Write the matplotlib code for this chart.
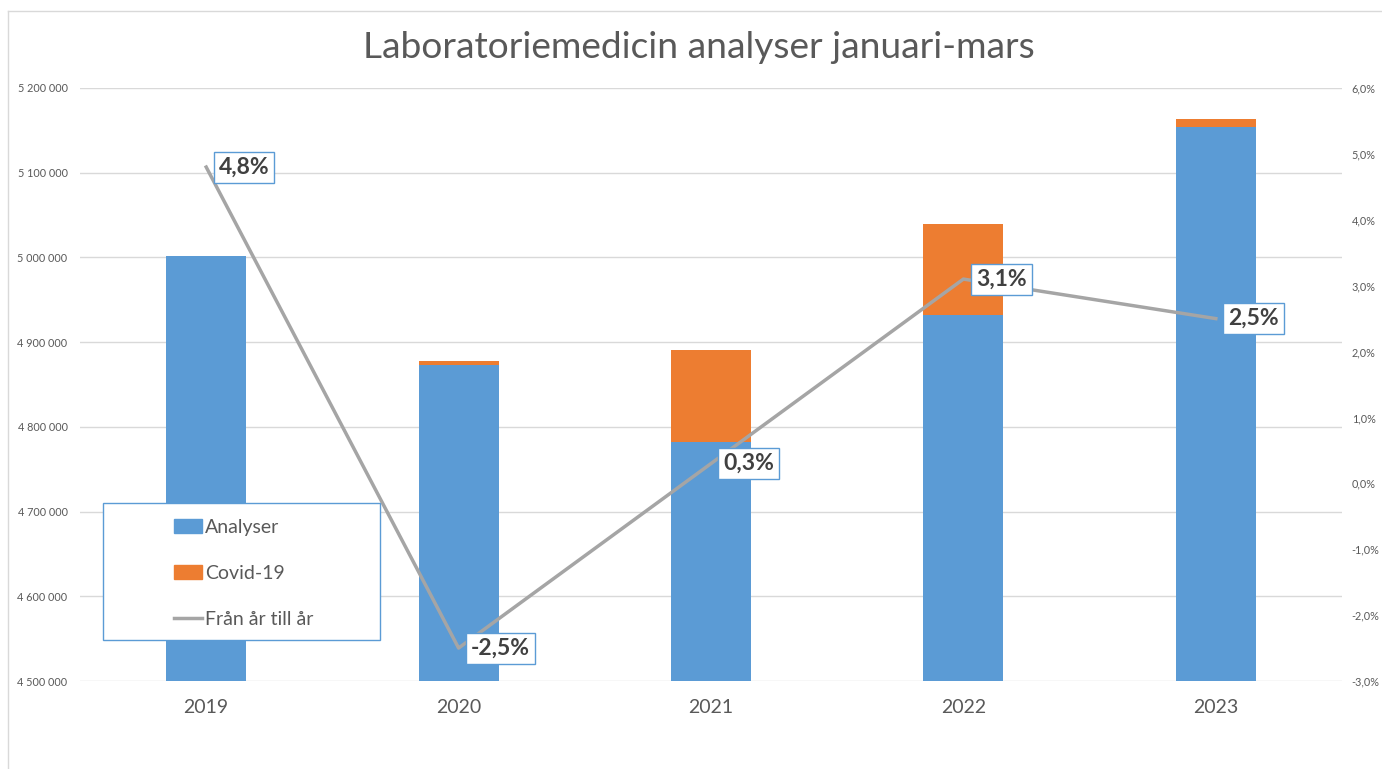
import matplotlib
matplotlib.use("Agg")
import matplotlib.pyplot as plt
from matplotlib.patches import Rectangle
from matplotlib.lines import Line2D
from matplotlib.ticker import FuncFormatter, MultipleLocator

plt.rcParams['font.family'] = ['Lato', 'DejaVu Sans']

# data
years = ['2019', '2020', '2021', '2022', '2023']
analyser = [5002000, 4873000, 4782000, 4932000, 5154000]
covid = [0, 5000, 109000, 107000, 9500]
growth = [4.8, -2.5, 0.3, 3.1, 2.5]

BLUE = '#5B9BD5'
ORANGE = '#ED7D31'
GREY_LINE = '#A5A5A5'
TXT = '#595959'

fig = plt.figure(figsize=(13.82, 7.69), dpi=100)
ax = fig.add_axes([80 / 1382, 1 - 681 / 769, (1342 - 80) / 1382, (681 - 88) / 769])

x = list(range(len(years)))
ax.bar(x, analyser, width=0.317, color=BLUE, zorder=2, label='Analyser')
ax.bar(x, covid, width=0.317, bottom=analyser, color=ORANGE, zorder=2, label='Covid-19')
ax.set_ylim(4500000, 5200000)
ax.set_xlim(-0.5, len(years) - 0.5)
ax.yaxis.set_major_locator(MultipleLocator(100000))
ax.yaxis.set_major_formatter(FuncFormatter(lambda v, p: f"{v:,.0f}".replace(",", " ")))
ax.grid(axis='y', color='#D9D9D9', lw=1, zorder=0)
ax.set_axisbelow(True)
ax.set_xticks(x)
ax.set_xticklabels(years)
ax.tick_params(axis='x', length=0, pad=13, labelsize=14, labelcolor=TXT)
ax.tick_params(axis='y', length=0, pad=9, labelsize=7.8, labelcolor=TXT)
for s in ax.spines.values():
    s.set_visible(False)

ax2 = ax.twinx()
ax2.plot(x, growth, color=GREY_LINE, lw=2.5, zorder=3)
ax2.set_ylim(-3, 6)
ax2.yaxis.set_major_locator(MultipleLocator(1))
ax2.yaxis.set_major_formatter(FuncFormatter(lambda v, p: f"{v:.1f}%".replace(".", ",")))
ax2.tick_params(axis='y', length=0, pad=7, labelsize=7.8, labelcolor=TXT)
for s in ax2.spines.values():
    s.set_visible(False)

for xi, g in zip(x, growth):
    ax2.annotate(f"{g:.1f}%".replace(".", ","), (xi, g), xytext=(9, 0),
                 textcoords='offset points', ha='left', va='center',
                 fontsize=16.5, fontweight='bold', color='#404040', zorder=5,
                 bbox=dict(boxstyle='square,pad=0.22', fc='white', ec=BLUE, lw=1))

fig.suptitle('Laboratoriemedicin analyser januari-mars', x=0.506, y=1 - 48 / 769,
             va='center', fontsize=26.7, color=TXT)

# legend with its own box
fig.patches.append(Rectangle((103 / 1382, 1 - 640 / 769), 277 / 1382, 137 / 769,
                             transform=fig.transFigure, fc='white', ec=BLUE, lw=1, zorder=4))
handles = [Rectangle((0, 0), 1, 1, color=BLUE), Rectangle((0, 0), 1, 1, color=ORANGE),
           Line2D([0], [0], color=GREY_LINE, lw=2.5)]
leg = fig.legend(handles, ['Analyser', 'Covid-19', 'Från år till år'],
                 loc='upper left', bbox_to_anchor=(164 / 1382, 1 - 509 / 769),
                 frameon=False, fontsize=14, labelcolor=TXT, labelspacing=1.5,
                 handlelength=1.45, handleheight=0.75, handletextpad=0.15, borderpad=0)
leg.set_zorder(6)

# chart border
fig.add_artist(Line2D([8 / 1382, 8 / 1382], [0, 1 - 11 / 769], transform=fig.transFigure,
                      color='#D9D9D9', lw=1))
fig.add_artist(Line2D([8 / 1382, 1], [1 - 11 / 769, 1 - 11 / 769], transform=fig.transFigure,
                      color='#D9D9D9', lw=1))

fig.savefig('out.png', dpi=100)
